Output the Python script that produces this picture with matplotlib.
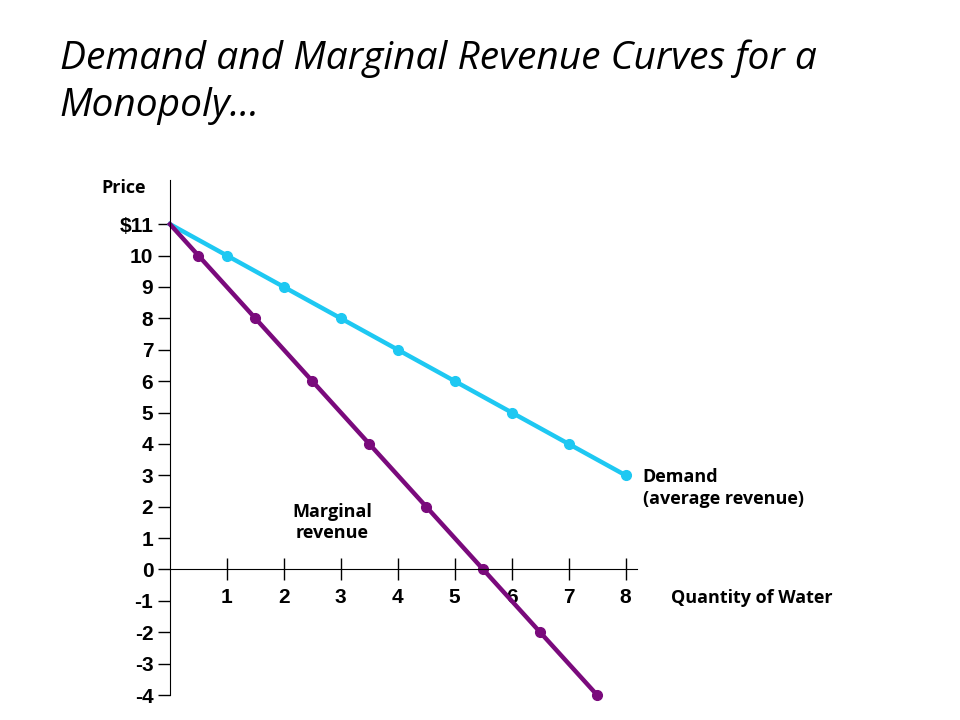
import matplotlib
matplotlib.use("Agg")
import matplotlib.pyplot as plt

demand_q = [0, 1, 2, 3, 4, 5, 6, 7, 8]
demand_p = [11, 10, 9, 8, 7, 6, 5, 4, 3]
mr_q = [0, 0.5, 1.5, 2.5, 3.5, 4.5, 5.5, 6.5, 7.5]
mr_p = [11, 10, 8, 6, 4, 2, 0, -2, -4]
y_ticks = [11, 10, 9, 8, 7, 6, 5, 4, 3, 2, 1, 0, -1, -2, -3, -4]
y_labels = ["$11"] + [str(v) for v in y_ticks[1:]]
x_ticks = [1, 2, 3, 4, 5, 6, 7, 8]

fig = plt.figure(figsize=(9.6, 7.2), dpi=100)
fig.text(0.062, 0.945, "Demand and Marginal Revenue Curves for a\nMonopoly...",
         fontsize=28, style="italic", family="Open Sans", va="top", linespacing=1.3)
ax = fig.add_axes([0.177, 0.0347, 0.4865, 0.715])
ax.set_xlim(0, 8.2)
ax.set_ylim(-4.0, 12.4)
for s in ["top", "right"]:
    ax.spines[s].set_visible(False)
ax.spines["bottom"].set_position(("data", 0))

cyan = "#1EC8F2"
purple = "#7A0A7C"
ax.plot(demand_q, demand_p, color=cyan, lw=3.2, clip_on=False)
ax.plot(demand_q[1:], demand_p[1:], "o", color=cyan, ms=7, clip_on=False)
ax.plot(mr_q, mr_p, color=purple, lw=3.2, clip_on=False)
ax.plot(mr_q[1:], mr_p[1:], "o", color=purple, ms=7, clip_on=False)

ax.set_yticks(y_ticks)
ax.set_yticklabels(y_labels, fontsize=15, fontweight="bold", family="Liberation Sans")
ax.set_xticks(x_ticks)
ax.set_xticklabels([str(v) for v in x_ticks], fontsize=15, fontweight="bold", family="Liberation Sans")
ax.tick_params(axis="y", direction="out", length=9, pad=3, width=1)
ax.tick_params(axis="x", direction="inout", length=16, pad=5, width=1)

ax.text(-0.82, 12.15, "Price", fontsize=13, fontweight="bold", family="Open Sans", ha="center", va="center")
ax.text(8.8, -0.9, "Quantity of Water", fontsize=13, fontweight="bold", family="Open Sans", ha="left", va="center", clip_on=False)
ax.text(8.3, 2.6, "Demand\n(average revenue)", fontsize=13, fontweight="bold", family="Open Sans", ha="left", va="center", linespacing=1.25)
ax.text(2.85, 1.5, "Marginal\nrevenue", fontsize=13, fontweight="bold", family="Open Sans", ha="center", va="center", linespacing=1.25)

fig.savefig("out.png", dpi=100)
